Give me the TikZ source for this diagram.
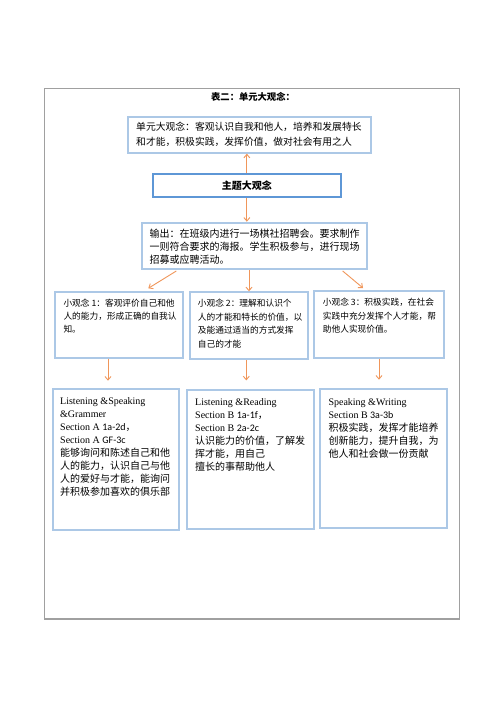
\documentclass[tikz,border=0pt]{standalone}
\usepackage{fontspec}
\setmainfont{Liberation Serif}
\newfontfamily\cjk{Noto Sans CJK SC}
\newfontfamily\cali{Carlito}
\usetikzlibrary{arrows.meta,calc}
\definecolor{boxblue}{RGB}{172,200,230}
\definecolor{themeblue}{RGB}{94,151,214}
\definecolor{arroworange}{RGB}{240,150,90}
\definecolor{framegray}{RGB}{160,160,160}
\begin{document}
\begin{tikzpicture}[x=1pt,y=-1pt,
  lightbox/.style={draw=boxblue,line width=2pt,inner sep=0pt,fill=white},
  themebox/.style={draw=themeblue,line width=2pt,inner sep=0pt,fill=white},
  txt/.style={anchor=north west,inner sep=0pt,align=left},
  arr/.style={draw=arroworange,line width=0.9pt,-{Straight Barb[length=3.5pt,width=6pt]}}]
\useasboundingbox[fill=white] (0,0) rectangle (500,707);
% outer frame
\node[draw=framegray,line width=1.2pt,inner sep=0pt,minimum width=415pt,minimum height=530.7pt] (frame) at (251.8,353.65) {};
\node[font={\cjk\bfseries\fontsize{9.3}{11}\selectfont},inner sep=0pt] (title) at (253,96.7) {表二：单元大观念：};
% boxes
\node[lightbox,minimum width=243pt,minimum height=35.4pt] (top) at (249.2,135) {};
\node[themebox,minimum width=187.7pt,minimum height=23pt,font={\cjk\bfseries\fontsize{10}{12}\selectfont}] (theme) at (246.85,185.8) {主题大观念};
\node[lightbox,minimum width=225pt,minimum height=46.3pt] (out) at (254.2,245.85) {};
\node[lightbox,minimum width=127.7pt,minimum height=66pt] (s1) at (118.85,324.7) {};
\node[lightbox,minimum width=118.6pt,minimum height=67pt] (s2) at (249,325.8) {};
\node[lightbox,minimum width=130pt,minimum height=66.7pt] (s3) at (379,324.35) {};
\node[lightbox,minimum width=126.6pt,minimum height=140.7pt] (A) at (116,459.65) {};
\node[lightbox,minimum width=127pt,minimum height=138.7pt] (B) at (250.5,459.35) {};
\node[lightbox,minimum width=126.7pt,minimum height=138.7pt] (C) at (383.35,458.65) {};
% texts
\node[txt,font={\cjk\fontsize{9.8}{15}\selectfont}] (toptext) at (136,122.1) {单元大观念：客观认识自我和他人，培养和发展特长\\和才能，积极实践，发挥价值，做对社会有用之人};
\node[txt,font={\cjk\fontsize{10}{13.3}\selectfont}] (outtext) at (149.3,228.6) {输出：在班级内进行一场棋社招聘会。要求制作\\一则符合要求的海报。学生积极参与，进行现场\\招募或应聘活动。};
\node[txt,font={\cjk\fontsize{8.7}{13.3}\selectfont}] (s1text) at (63.3,298.7) {小观念 1：客观评价自己和他\\人的能力，形成正确的自我认\\知。};
\node[txt,font={\cjk\fontsize{8.7}{13.4}\selectfont}] (s2text) at (197.7,299.2) {小观念 2：理解和认识个\\人的才能和特长的价值，以\\及能通过适当的方式发挥\\自己的才能};
\node[txt,font={\cjk\fontsize{8.7}{13.5}\selectfont}] (s3text) at (322.7,298.2) {小观念 3：积极实践，在社会\\实践中充分发挥个人才能，帮\\助他人实现价值。};
\node[txt,font={\fontsize{10}{13.04}\selectfont}] (Atext) at (60,397.4) {Listening \&Speaking\\\&Grammer\\Section A {\cali 1a-2d}{\cjk ，}\\Section A {\cali GF-3c}\\{\cjk 能够询问和陈述自己和他}\\{\cjk 人的能力，认识自己与他}\\{\cjk 人的爱好与才能，能询问}\\{\cjk 并积极参加喜欢的俱乐部}};
\node[txt,font={\fontsize{10}{13.06}\selectfont}] (Btext) at (195,398.4) {Listening \&Reading\\Section B {\cali 1a-1f}{\cjk ，}\\Section B {\cali 2a-2c}\\{\cjk 认识能力的价值，了解发}\\{\cjk 挥才能，用自己}\\{\cjk 擅长的事帮助他人}};
\node[txt,font={\fontsize{10}{13}\selectfont}] (Ctext) at (328.3,398.4) {Speaking \&Writing\\Section B {\cali 3a-3b}\\{\cjk 积极实践，发挥才能培养}\\{\cjk 创新能力，提升自我，为}\\{\cjk 他人和社会做一份贡献}};
% connectors
\draw[arr] (theme.north) -- (theme.north |- top.south);
\draw[arr] (theme.south) -- (theme.south |- out.north);
\draw[arr] ($(out.south west)+(35.6,1)$) -- ($(s1.north west)+(94.3,-2.4)$);
\draw[arr] (s2.north |- out.south) -- (s2.north);
\draw[arr] ($(out.south east)+(-25,1)$) -- ($(s3.north west)+(50,-2)$);
\coordinate (a1) at ($(s1.south west)+(54,0)$);
\coordinate (a2) at ($(s2.south west)+(57.6,0)$);
\coordinate (a3) at ($(s3.south west)+(66,0)$);
\draw[arr] (a1) -- ($(a1 |- A.north)+(0,-7.6)$);
\draw[arr] (a2) -- ($(a2 |- B.north)+(0,-8.6)$);
\draw[arr] (a3) -- ($(a3 |- C.north)+(0,-8.6)$);
\end{tikzpicture}
\end{document}
